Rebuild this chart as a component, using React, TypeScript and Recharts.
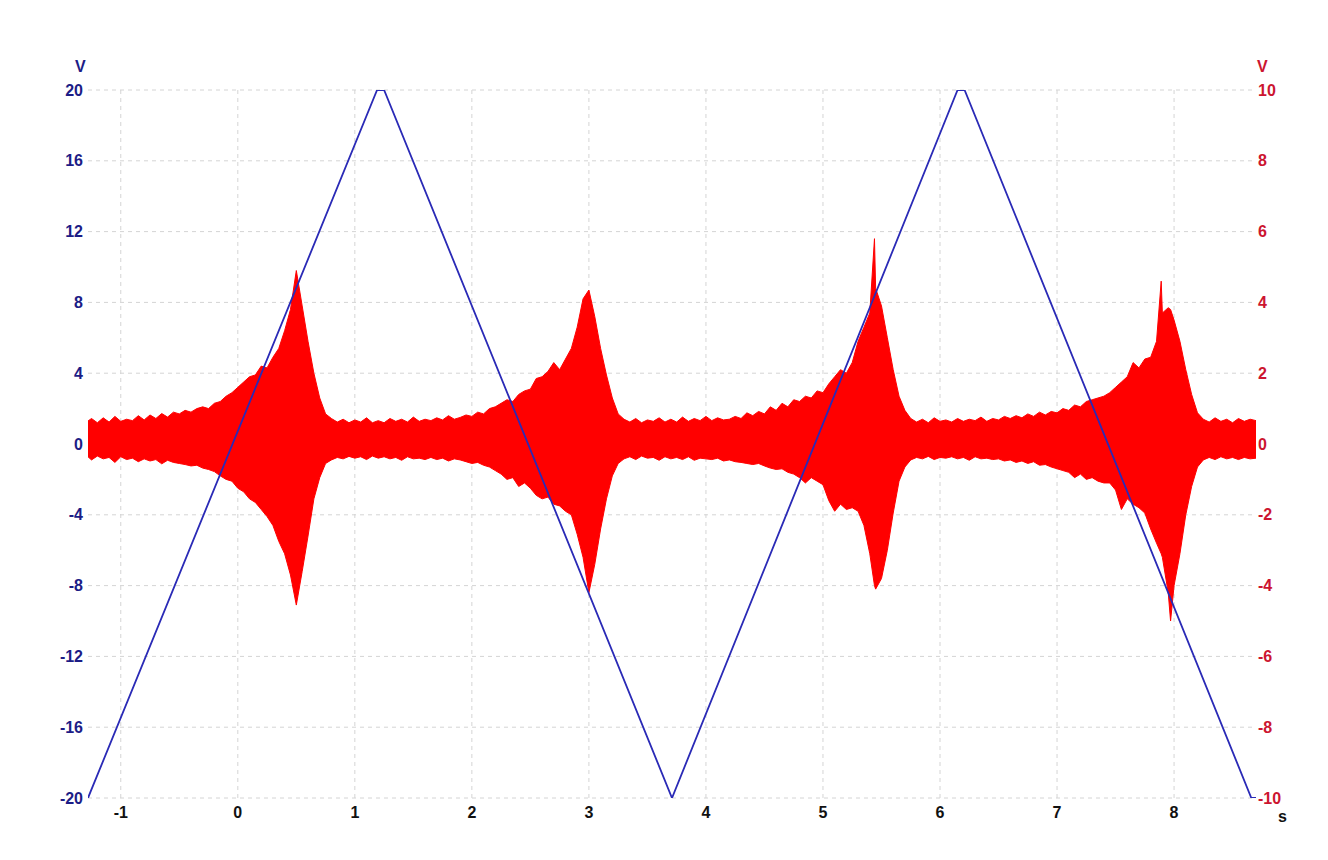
import { ComposedChart, Line, Area, XAxis, YAxis, CartesianGrid } from 'recharts';

// triangle sweep, left axis (V)
const blueT = [-1.28, 1.19, 1.25, 3.71, 6.15, 6.21, 8.66, 8.70];
const blueV = [-20, 20, 20, -20, 20, 20, -20, -20];

// noisy channel, right axis (V): sample times with upper / lower envelope
const redT = [
  -1.28, -1.25, -1.20, -1.15, -1.10, -1.05, -1.00, -0.95, -0.90, -0.85,
  -0.80, -0.75, -0.70, -0.65, -0.60, -0.55, -0.50, -0.45, -0.40, -0.35,
  -0.30, -0.25, -0.20, -0.15, -0.10, -0.05, 0.00, 0.05, 0.10, 0.15,
  0.20, 0.25, 0.30, 0.35, 0.40, 0.45, 0.50, 0.55, 0.60, 0.65,
  0.70, 0.75, 0.80, 0.85, 0.90, 0.95, 1.00, 1.05, 1.10, 1.15,
  1.20, 1.25, 1.30, 1.35, 1.40, 1.45, 1.50, 1.55, 1.60, 1.65,
  1.70, 1.75, 1.80, 1.85, 1.90, 1.95, 2.00, 2.05, 2.10, 2.15,
  2.20, 2.25, 2.30, 2.35, 2.40, 2.45, 2.50, 2.55, 2.60, 2.65,
  2.70, 2.75, 2.80, 2.85, 2.90, 2.95, 3.00, 3.05, 3.10, 3.15,
  3.20, 3.25, 3.30, 3.35, 3.40, 3.45, 3.50, 3.55, 3.60, 3.65,
  3.70, 3.75, 3.80, 3.85, 3.90, 3.95, 4.00, 4.05, 4.10, 4.15,
  4.20, 4.25, 4.30, 4.35, 4.40, 4.45, 4.50, 4.55, 4.60, 4.65,
  4.70, 4.75, 4.80, 4.85, 4.90, 4.95, 5.00, 5.05, 5.10, 5.15,
  5.20, 5.25, 5.30, 5.35, 5.40, 5.44, 5.45, 5.50, 5.55, 5.60,
  5.65, 5.70, 5.75, 5.80, 5.85, 5.90, 5.95, 6.00, 6.05, 6.10,
  6.15, 6.20, 6.25, 6.30, 6.35, 6.40, 6.45, 6.50, 6.55, 6.60,
  6.65, 6.70, 6.75, 6.80, 6.85, 6.90, 6.95, 7.00, 7.05, 7.10,
  7.15, 7.20, 7.25, 7.30, 7.35, 7.40, 7.45, 7.50, 7.55, 7.60,
  7.65, 7.70, 7.75, 7.80, 7.85, 7.89, 7.90, 7.95, 7.97, 8.00,
  8.05, 8.10, 8.15, 8.20, 8.25, 8.30, 8.35, 8.40, 8.45, 8.50,
  8.55, 8.60, 8.65, 8.70,
];
const redHi = [
  0.65, 0.72, 0.60, 0.74, 0.62, 0.78, 0.64, 0.70, 0.66, 0.80,
  0.68, 0.82, 0.72, 0.86, 0.76, 0.90, 0.85, 0.95, 0.90, 1.00,
  1.05, 1.00, 1.15, 1.20, 1.35, 1.45, 1.60, 1.75, 1.90, 1.95,
  2.20, 2.15, 2.45, 2.70, 3.20, 3.80, 4.90, 3.90, 2.90, 2.00,
  1.30, 0.85, 0.72, 0.62, 0.70, 0.60, 0.68, 0.62, 0.74, 0.60,
  0.66, 0.60, 0.72, 0.64, 0.70, 0.62, 0.76, 0.64, 0.70, 0.66,
  0.74, 0.68, 0.80, 0.70, 0.75, 0.82, 0.78, 0.90, 0.85, 1.00,
  1.05, 1.15, 1.25, 1.20, 1.40, 1.50, 1.55, 1.85, 1.90, 2.05,
  2.30, 2.10, 2.40, 2.70, 3.30, 4.10, 4.35, 3.60, 2.70, 1.95,
  1.30, 0.85, 0.70, 0.62, 0.72, 0.60, 0.68, 0.64, 0.74, 0.62,
  0.70, 0.62, 0.76, 0.64, 0.72, 0.66, 0.78, 0.66, 0.74, 0.68,
  0.70, 0.78, 0.72, 0.88, 0.80, 0.92, 0.85, 1.05, 0.95, 1.15,
  1.05, 1.25, 1.20, 1.35, 1.30, 1.50, 1.45, 1.70, 1.90, 2.10,
  2.00, 2.30, 2.90, 3.30, 3.70, 5.80, 4.40, 3.90, 3.00, 2.10,
  1.35, 0.95, 0.72, 0.62, 0.70, 0.60, 0.74, 0.64, 0.68, 0.62,
  0.72, 0.64, 0.70, 0.66, 0.76, 0.64, 0.72, 0.68, 0.78, 0.72,
  0.80, 0.74, 0.85, 0.78, 0.90, 0.82, 0.92, 0.88, 1.00, 0.95,
  1.10, 1.05, 1.20, 1.25, 1.30, 1.35, 1.45, 1.60, 1.75, 1.90,
  2.30, 2.15, 2.40, 2.45, 2.90, 4.60, 3.70, 3.85, 3.80, 3.50,
  2.90, 2.10, 1.40, 0.88, 0.70, 0.62, 0.74, 0.64, 0.70, 0.60,
  0.72, 0.64, 0.70, 0.66,
];
const redLo = [
  -0.36, -0.45, -0.34, -0.42, -0.38, -0.52, -0.36, -0.44, -0.40, -0.50,
  -0.42, -0.48, -0.44, -0.56, -0.46, -0.52, -0.55, -0.58, -0.62, -0.60,
  -0.68, -0.72, -0.78, -0.90, -1.00, -1.05, -1.25, -1.35, -1.55, -1.65,
  -1.85, -2.05, -2.30, -2.75, -3.10, -3.70, -4.55, -3.60, -2.60, -1.55,
  -0.95, -0.55, -0.45, -0.38, -0.42, -0.35, -0.40, -0.36, -0.44, -0.34,
  -0.40, -0.36, -0.42, -0.38, -0.46, -0.36, -0.42, -0.40, -0.44, -0.38,
  -0.44, -0.40, -0.48, -0.42, -0.45, -0.50, -0.55, -0.52, -0.60, -0.65,
  -0.75, -0.85, -1.00, -0.95, -1.20, -1.10, -1.25, -1.45, -1.55, -1.50,
  -1.70, -1.75, -1.90, -2.00, -2.55, -3.20, -4.20, -3.40, -2.40, -1.55,
  -0.90, -0.55, -0.42, -0.36, -0.44, -0.34, -0.40, -0.38, -0.46, -0.36,
  -0.42, -0.38, -0.44, -0.36, -0.46, -0.40, -0.42, -0.44, -0.40, -0.48,
  -0.45, -0.50, -0.52, -0.55, -0.58, -0.55, -0.62, -0.68, -0.72, -0.70,
  -0.80, -0.85, -0.95, -1.10, -0.95, -1.05, -1.15, -1.60, -1.90, -1.70,
  -1.85, -1.80, -1.90, -2.30, -3.10, -4.00, -4.10, -3.80, -3.00, -1.95,
  -1.05, -0.65, -0.45, -0.38, -0.42, -0.35, -0.44, -0.38, -0.40, -0.36,
  -0.42, -0.38, -0.46, -0.36, -0.42, -0.40, -0.44, -0.42, -0.48, -0.45,
  -0.52, -0.48, -0.55, -0.50, -0.60, -0.58, -0.65, -0.70, -0.75, -0.80,
  -0.95, -0.85, -1.00, -0.95, -1.05, -1.10, -1.10, -1.30, -1.85, -1.55,
  -1.70, -1.80, -1.95, -2.40, -2.80, -3.10, -3.20, -4.20, -5.00, -4.00,
  -3.10, -2.00, -1.20, -0.65, -0.45, -0.38, -0.44, -0.36, -0.42, -0.38,
  -0.44, -0.38, -0.42, -0.40,
];

const xTicks = [-1, 0, 1, 2, 3, 4, 5, 6, 7, 8];
const leftTicks = [-20, -16, -12, -8, -4, 0, 4, 8, 12, 16, 20];
const rightTicks = [-10, -8, -6, -4, -2, 0, 2, 4, 6, 8, 10];

// merge both traces into one table keyed by time
const rowMap = new Map<number, any>();
redT.forEach((t, i) => rowMap.set(t, { t, red: [redLo[i], redHi[i]] }));
blueT.forEach((t, i) => {
  const row = rowMap.get(t) ?? { t };
  row.blue = blueV[i];
  rowMap.set(t, row);
});
const data = [...rowMap.values()].sort((a, b) => a.t - b.t);

const FONT = '"Liberation Sans", Arial, sans-serif';
const NAVY = '#1c1c86';
const CRIMSON = '#cc1530';

const unitStyle = (left: number, top: number, color: string): React.CSSProperties => ({
  position: 'absolute', left, top, fontFamily: FONT, fontWeight: 700, fontSize: 16, color,
});

export default function App() {
  return (
    <div style={{ position: 'absolute', left: 0, top: 0, width: 1328, height: 860, background: '#fff' }}>
      <ComposedChart
        width={1328}
        height={860}
        data={data}
        margin={{ top: 90, right: 22, left: 28, bottom: 32 }}
      >
        <CartesianGrid
          yAxisId="left"
          stroke="#d4d4d4"
          strokeDasharray="4 4"
          verticalValues={xTicks}
          horizontalValues={leftTicks}
        />
        <XAxis
          dataKey="t"
          type="number"
          domain={[-1.28, 8.7]}
          ticks={xTicks}
          allowDataOverflow
          axisLine={false}
          tickLine={false}
          tickSize={0}
          tickMargin={9}
          height={30}
          tick={{ fill: '#111', fontSize: 16, fontWeight: 700, fontFamily: FONT }}
        />
        <YAxis
          yAxisId="left"
          orientation="left"
          domain={[-20, 20]}
          ticks={leftTicks}
          allowDataOverflow
          axisLine={false}
          tickLine={false}
          tickSize={0}
          tickMargin={5}
          width={60}
          tick={{ fill: NAVY, fontSize: 16, fontWeight: 700, fontFamily: FONT }}
        />
        <YAxis
          yAxisId="right"
          orientation="right"
          domain={[-10, 10]}
          ticks={rightTicks}
          allowDataOverflow
          axisLine={false}
          tickLine={false}
          tickSize={0}
          tickMargin={2}
          width={50}
          tick={{ fill: CRIMSON, fontSize: 16, fontWeight: 700, fontFamily: FONT }}
        />
        <Line
          yAxisId="left"
          type="linear"
          dataKey="blue"
          stroke="#2a2ab6"
          strokeWidth={1.8}
          dot={false}
          activeDot={false}
          connectNulls
          isAnimationActive={false}
        />
        <Area
          yAxisId="right"
          type="linear"
          dataKey="red"
          stroke="#ff0000"
          strokeWidth={1}
          fill="#ff0000"
          fillOpacity={1}
          dot={false}
          activeDot={false}
          connectNulls
          isAnimationActive={false}
        />
      </ComposedChart>
      <div style={unitStyle(75, 58, NAVY)}>V</div>
      <div style={unitStyle(1257, 58, CRIMSON)}>V</div>
      <div style={unitStyle(1278, 808, '#111')}>s</div>
    </div>
  );
}
